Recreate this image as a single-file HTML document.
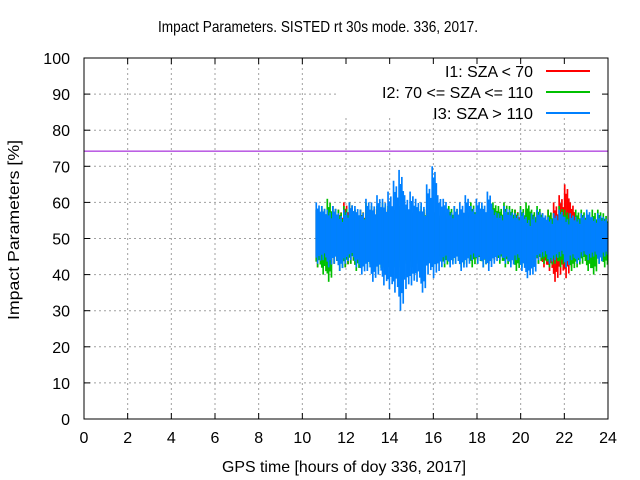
<!DOCTYPE html>
<html><head><meta charset="utf-8"><style>
body{margin:0;background:#fff}
svg{display:block;font-family:"Liberation Sans",sans-serif}
</style></head><body>
<svg id="chart" width="640" height="480" xmlns="http://www.w3.org/2000/svg">
<rect width="640" height="480" fill="#fff"/>
<text x="318" y="32" text-anchor="middle" font-size="16" textLength="320" lengthAdjust="spacingAndGlyphs">Impact Parameters. SISTED rt 30s mode. 336, 2017.</text>
<g id="grid"></g>
<g id="series"></g>
<g id="legend-bg"></g>
<g id="axes"></g>
<text x="344" y="472" text-anchor="middle" font-size="16" textLength="244" lengthAdjust="spacingAndGlyphs">GPS time [hours of doy 336, 2017]</text>
<text transform="translate(19,230) rotate(-90)" text-anchor="middle" font-size="16" textLength="180" lengthAdjust="spacingAndGlyphs">Impact Parameters [%]</text>
</svg>
<script>
const xTicks=[0,2,4,6,8,10,12,14,16,18,20,22,24];
const yTicks=[0,10,20,30,40,50,60,70,80,90,100];
const binStart=10.6, binStep=0.25;
const blueHi=[60,59,58,59,57,58,60,59,58,61,60,62,61,63,66,69,62,63,61,60,65,70,62,61,58,59,60,62,59,61,60,63,58,57,59,58,57,58,56,57,58,57,56,57,58,56,57,56,57,58,56,57,56];
const blueLo=[43,44,42,43,41,43,44,42,40,41,38,40,37,36,35,30,36,37,38,35,40,39,41,43,42,43,41,42,44,43,42,41,43,44,43,42,44,41,39,40,44,45,43,44,45,42,44,43,45,44,45,43,45];
const greenHi=[58,59,61,59,58,59,60,58,58,60,59,59,60,59,58,59,58,58,59,59,58,58,57,58,59,59,58,58,60,58,59,58,60,59,60,59,58,59,60,58,59,57,58,57,59,58,57,58,58,57,58,58,57];
const greenLo=[42,40,38,43,41,42,43,41,42,42,41,41,42,42,42,42,43,42,43,42,43,42,44,42,43,43,42,43,42,43,42,43,44,43,42,43,41,42,43,44,43,43,42,43,42,42,41,42,43,41,40,43,42];
const redHi=[58,58,58,59,58,60,60,58,58,58,59,58,59,58,58,58,58,57,58,58,57,58,57,56,58,57,58,57,57,58,57,57,57,58,58,57,58,57,58,57,58,57,58,60,62,65,60,56,55,56,55,56,55];
const redLo=[42,43,42,43,43,42,43,43,43,44,43,44,44,43,44,44,44,44,44,44,45,45,45,45,44,45,44,45,44,44,44,43,44,44,44,44,44,44,43,44,43,42,41,38,40,39,42,45,46,46,46,46,46];
const hLineValue=74.2;
const L=84,R=608,T=58,B=419;
const xs=v=>L+(R-L)*v/24, ys=v=>B-(B-T)*v/100;
const NS="http://www.w3.org/2000/svg";
function mk(tag,attrs,parent){const e=document.createElementNS(NS,tag);for(const k in attrs)e.setAttribute(k,attrs[k]);parent.appendChild(e);return e;}
const grid=document.getElementById('grid'),axes=document.getElementById('axes'),ser=document.getElementById('series'),lb=document.getElementById('legend-bg');
xTicks.forEach(t=>{if(t>0&&t<24){const g=mk('line',{x1:xs(t),x2:xs(t),y1:T,y2:B,stroke:'#a0a0a0','stroke-dasharray':'2,3'},grid);

}
const tk=mk('line',{x1:xs(t),x2:xs(t),y1:B,y2:B-6,stroke:'#000'},axes);


const tk2=mk('line',{x1:xs(t),x2:xs(t),y1:T,y2:T+6,stroke:'#000'},axes);


const tx=mk('text',{x:xs(t),y:B+24,'text-anchor':'middle','font-size':16},axes);tx.textContent=t;

});
yTicks.forEach(t=>{if(t>0&&t<100){const g=mk('line',{x1:L,x2:R,y1:ys(t),y2:ys(t),stroke:'#a0a0a0','stroke-dasharray':'2,3'},grid);

}
const tk=mk('line',{x1:L,x2:L+6,y1:ys(t),y2:ys(t),stroke:'#000'},axes);


const tk2=mk('line',{x1:R,x2:R-6,y1:ys(t),y2:ys(t),stroke:'#000'},axes);


const tx=mk('text',{x:L-14,y:ys(t)+6,'text-anchor':'end','font-size':16},axes);tx.textContent=t;

});
const hl=mk('line',{x1:L,x2:R,y1:ys(hLineValue),y2:ys(hLineValue),stroke:'#9400d3','stroke-width':1},ser);


function drawSeries(hi,lo,color,name){
 const g=mk('g',{},ser);
 
 
 const w=(xs(24)-xs(binStart))/hi.length;
 hi.forEach((h,i)=>{const x0=xs(binStart)+i*w;
  const sub=4;
  for(let k=0;k<sub;k++){
   const f=[1,0.8,0.9,0.7][k];
   const mid=(h+lo[i])/2;
   const top=mid+(h-mid)*f, bot=mid-(mid-lo[i])*[0.8,1,0.75,0.9][k];
   const r=mk('rect',{x:x0+k*w/sub,y:ys(top),width:w/sub+0.3,height:ys(bot)-ys(top),fill:color},g);
   
   
  }});
}
drawSeries(redHi,redLo,'#ff0000','series-i1');
drawSeries(greenHi,greenLo,'#00c000','series-i2');
drawSeries(blueHi,blueLo,'#0080ff','series-i3');
const bg=mk('rect',{x:336,y:T+1,width:R-337,height:58,fill:'#fff'},lb);


const leg=[['I1: SZA < 70','#ff0000',88],['I2: 70 <= SZA <= 110','#00c000',151],['I3: SZA > 110','#0080ff',100]];
leg.forEach((l,i)=>{const y=T+13+i*21;
 const t=mk('text',{x:533,y:y+6,'text-anchor':'end','font-size':16,textLength:l[2],lengthAdjust:'spacingAndGlyphs'},lb);t.textContent=l[0];
 
 
 const s=mk('line',{x1:546,x2:590,y1:y,y2:y,stroke:l[1],'stroke-width':2},lb);
 
 });
const fr=mk('rect',{x:L,y:T,width:R-L,height:B-T,fill:'none',stroke:'#000'},axes);


</script>
</body></html>
